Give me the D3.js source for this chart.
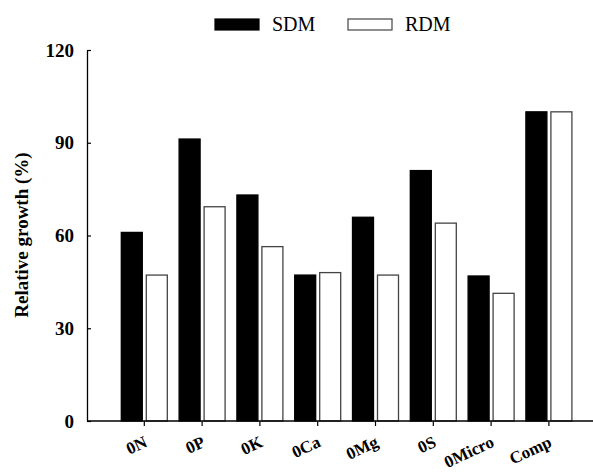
<!DOCTYPE html>
<html>
<head>
<meta charset="utf-8">
<script src="https://cdn.jsdelivr.net/npm/d3@7"></script>
<style>
  body { margin: 0; background: #fff; }
  svg { display: block; }
  text { font-family: "Liberation Serif", "DejaVu Serif", serif; }
</style>
</head>
<body>
<div id="chart"></div>
<script>
// values
const categories = ["0N", "0P", "0K", "0Ca", "0Mg", "0S", "0Micro", "Comp"];
const seriesNames = ["SDM", "RDM"];
const sdmValues = [61, 91.2, 73.1, 47.2, 65.9, 81, 46.9, 100];
const rdmValues = [47.2, 69.3, 56.4, 48, 47.2, 64, 41.3, 100];
const yTicks = [0, 30, 60, 90, 120];

const width = 593, height = 473;

const svg = d3.select("#chart").append("svg")
    .attr("width", width)
    .attr("height", height);

const axisLeft = 87, axisRight = 606;
const x = d3.scaleBand()
    .domain(categories)
    .range([axisLeft + 28.4, axisLeft + 28.4 + 57.8 * categories.length]);

const xInner = d3.scaleBand()
    .domain(seriesNames)
    .range([-23, 23])
    .paddingInner(0.16);

const y = d3.scaleLinear()
    .domain([0, 120])
    .range([421, 50]);

const rows = categories.map((c, i) => ({ cat: c, SDM: sdmValues[i], RDM: rdmValues[i] }));
const fills = { SDM: "#000", RDM: "#fff" };
const strokes = { SDM: "#000", RDM: "#444" };

// bars
const groups = svg.append("g").selectAll("g")
    .data(rows)
    .join("g")
    .attr("transform", d => `translate(${x(d.cat) + x.bandwidth() / 2},0)`);

groups.selectAll("rect")
    .data(d => seriesNames.map(s => ({ s, v: d[s] })))
    .join("rect")
    .attr("x", d => xInner(d.s))
    .attr("y", d => y(d.v))
    .attr("width", xInner.bandwidth())
    .attr("height", d => y(0) - y(d.v))
    .attr("fill", d => fills[d.s])
    .attr("stroke", d => strokes[d.s])
    .attr("stroke-width", 1.3);

// y axis, ticks pointing inward
const yAxis = svg.append("g")
    .attr("transform", `translate(${axisLeft},0)`)
    .call(d3.axisRight(y).tickValues(yTicks).tickSize(4).tickSizeOuter(0));
yAxis.select(".domain").attr("stroke", "#000").attr("stroke-width", 1.3);
yAxis.selectAll(".tick line").attr("stroke", "#000").attr("stroke-width", 1.2);
yAxis.selectAll(".tick text")
    .attr("x", -13)
    .attr("text-anchor", "end")
    .attr("font-family", null)
    .attr("font-weight", "bold")
    .attr("font-size", 19)
    .attr("fill", "#000");

// x axis
const xAxis = svg.append("g")
    .attr("transform", `translate(0,${y(0)})`);
xAxis.append("line")
    .attr("x1", axisLeft).attr("x2", axisRight)
    .attr("stroke", "#000").attr("stroke-width", 1.3);
xAxis.selectAll("line.tick")
    .data(categories)
    .join("line")
    .attr("class", "tick")
    .attr("x1", d => x(d) + x.bandwidth() / 2)
    .attr("x2", d => x(d) + x.bandwidth() / 2)
    .attr("y1", 0).attr("y2", 5)
    .attr("stroke", "#000").attr("stroke-width", 1.2);
xAxis.selectAll("text")
    .data(categories)
    .join("text")
    .attr("text-anchor", "end")
    .attr("font-weight", "bold")
    .attr("font-size", 17)
    .attr("transform", d => `translate(${x(d) + x.bandwidth() / 2 + 4},${25}) rotate(-25)`)
    .text(d => d);

// y axis title
svg.append("text")
    .attr("transform", `translate(28,235) rotate(-90)`)
    .attr("text-anchor", "middle")
    .attr("font-weight", "bold")
    .attr("font-size", 19)
    .text("Relative growth (%)");

// legend
const legendItems = [
    { name: "SDM", x: 215 },
    { name: "RDM", x: 348 }
];
const legend = svg.append("g").selectAll("g")
    .data(legendItems)
    .join("g")
    .attr("transform", d => `translate(${d.x},19)`);
legend.append("rect")
    .attr("width", 44).attr("height", 11)
    .attr("fill", d => fills[d.name])
    .attr("stroke", d => strokes[d.name])
    .attr("stroke-width", 1.2);
legend.append("text")
    .attr("x", 57).attr("y", 12)
    .attr("font-size", 20)
    .text(d => d.name);
</script>
</body>
</html>
